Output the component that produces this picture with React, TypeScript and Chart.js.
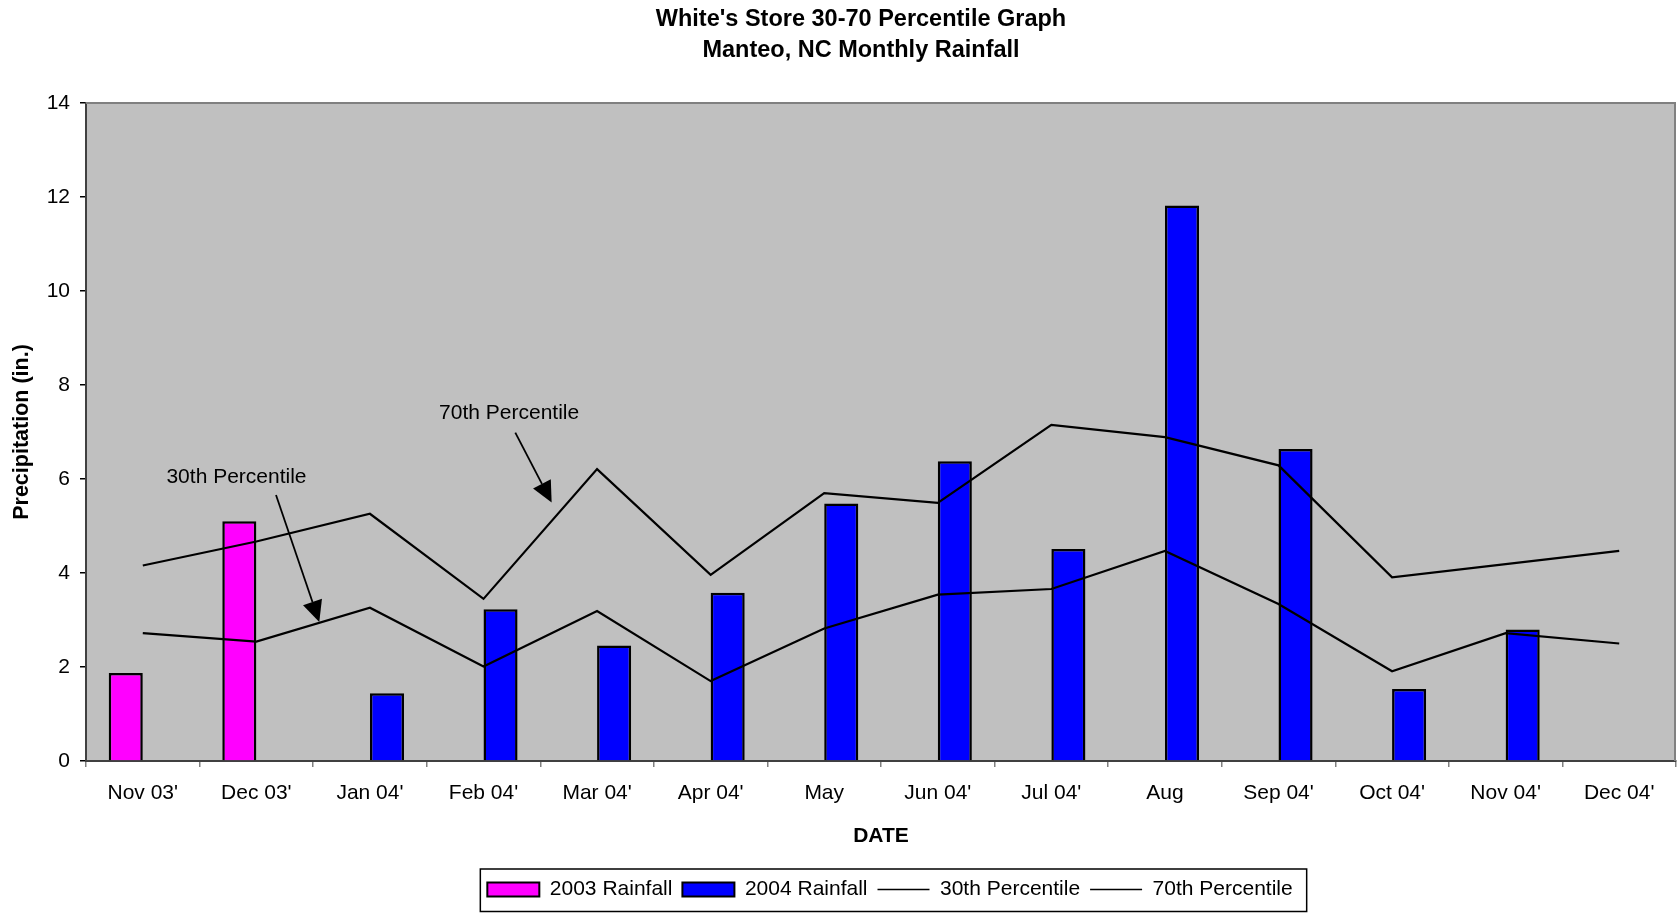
import { useEffect, useRef } from 'react';
import { Chart, registerables } from 'chart.js';

Chart.register(...registerables);

// ---------- data ----------
const titleLines = ["White's Store 30-70 Percentile Graph", 'Manteo, NC Monthly Rainfall'];
const categories = ["Nov 03'", "Dec 03'", "Jan 04'", "Feb 04'", "Mar 04'", "Apr 04'", 'May', "Jun 04'", "Jul 04'", 'Aug', "Sep 04'", "Oct 04'", "Nov 04'", "Dec 04'"];
const rain2003 = [1.87, 5.1, null, null, null, null, null, null, null, null, null, null, null, null];
const rain2004 = [null, null, 1.44, 3.23, 2.46, 3.58, 5.48, 6.38, 4.51, 11.82, 6.64, 1.53, 2.8, null];
const pct30 = [2.72, 2.54, 3.26, 2.01, 3.19, 1.7, 2.82, 3.54, 3.66, 4.47, 3.34, 1.91, 2.72, 2.5];
const pct70 = [4.16, 4.67, 5.26, 3.45, 6.21, 3.96, 5.7, 5.49, 7.15, 6.89, 6.29, 3.91, 4.19, 4.47];
const seriesNames = ['2003 Rainfall', '2004 Rainfall', '30th Percentile', '70th Percentile'];
const yMin = 0;
const yMax = 14;
const yStep = 2;
const xTitle = 'DATE';
const yTitle = 'Precipitation (in.)';

// annotation callouts (category index, value)
const noteLabels = ['30th Percentile', '70th Percentile'];
const noteTextX = [0.825, 3.226];
const noteTextY = [6.03, 7.4];
const noteFromX = [1.173, 3.28];
const noteFromY = [5.66, 6.985];
const noteToX = [1.554, 3.6];
const noteToY = [2.96, 5.5];

const FONT = '"Liberation Sans", Arial, Helvetica, sans-serif';

const backgroundPlugin = {
  id: 'plotBackground',
  afterLayout(chart: any) {
    const lg = chart.legend;
    if (lg) {
      lg.left += 9;
      lg.right += 9;
    }
  },
  beforeDraw(chart: any) {
    const { ctx, chartArea } = chart;
    ctx.save();
    ctx.fillStyle = '#ffffff';
    ctx.fillRect(0, 0, chart.width, chart.height);
    ctx.fillStyle = '#C0C0C0';
    ctx.fillRect(chartArea.left, chartArea.top, chartArea.right - chartArea.left, chartArea.bottom - chartArea.top);
    ctx.restore();
  },
  afterDatasetsDraw(chart: any) {
    const { ctx, chartArea } = chart;
    ctx.save();
    ctx.strokeStyle = '#808080';
    ctx.lineWidth = 2;
    ctx.beginPath();
    ctx.moveTo(chartArea.left, chartArea.top);
    ctx.lineTo(chartArea.right - 1, chartArea.top);
    ctx.lineTo(chartArea.right - 1, chartArea.bottom);
    ctx.stroke();
    ctx.restore();
  },
};

const titlePlugin = {
  id: 'twoLineTitle',
  afterDraw(chart: any) {
    const { ctx, chartArea } = chart;
    const cx = (chartArea.left + chartArea.right) / 2 - 20;
    ctx.save();
    ctx.font = `bold 23.5px ${FONT}`;
    ctx.fillStyle = '#000';
    ctx.textAlign = 'center';
    ctx.textBaseline = 'middle';
    titleLines.forEach((t, i) => ctx.fillText(t, cx, 20 + i * 31));
    ctx.restore();
  },
};

const notesPlugin = {
  id: 'callouts',
  afterDatasetsDraw(chart: any) {
    const { ctx } = chart;
    const xs = chart.scales.x;
    const ys = chart.scales.y;
    ctx.save();
    ctx.font = `21px ${FONT}`;
    ctx.fillStyle = '#000';
    ctx.strokeStyle = '#000';
    ctx.textAlign = 'center';
    ctx.textBaseline = 'middle';
    noteLabels.forEach((label, i) => {
      ctx.fillText(label, xs.getPixelForValue(noteTextX[i]), ys.getPixelForValue(noteTextY[i]));
      const sx = xs.getPixelForValue(noteFromX[i]);
      const sy = ys.getPixelForValue(noteFromY[i]);
      const ex = xs.getPixelForValue(noteToX[i]);
      const ey = ys.getPixelForValue(noteToY[i]);
      const ang = Math.atan2(ey - sy, ex - sx);
      const headLen = 21;
      const headHalf = 10;
      const bx = ex - Math.cos(ang) * headLen;
      const by = ey - Math.sin(ang) * headLen;
      ctx.lineWidth = 1.8;
      ctx.beginPath();
      ctx.moveTo(sx, sy);
      ctx.lineTo(bx, by);
      ctx.stroke();
      ctx.beginPath();
      ctx.moveTo(ex, ey);
      ctx.lineTo(bx + Math.sin(ang) * headHalf, by - Math.cos(ang) * headHalf);
      ctx.lineTo(bx - Math.sin(ang) * headHalf, by + Math.cos(ang) * headHalf);
      ctx.closePath();
      ctx.fill();
    });
    ctx.restore();
  },
};

const legendBoxPlugin = {
  id: 'legendBox',
  afterDraw(chart: any) {
    const lg = chart.legend;
    if (!lg || !lg.legendHitBoxes || !lg.legendHitBoxes.length) return;
    const boxes = lg.legendHitBoxes;
    const left = Math.min(...boxes.map((b: any) => b.left)) - 7;
    const right = Math.max(...boxes.map((b: any) => b.left + b.width)) + 14;
    const top = lg.top;
    const bottom = chart.height - 1.5;
    const { ctx } = chart;
    ctx.save();
    ctx.strokeStyle = '#000';
    ctx.lineWidth = 1.5;
    ctx.strokeRect(left, top, right - left, bottom - top);
    ctx.restore();
  },
};

export default function App() {
  const canvasRef = useRef<HTMLCanvasElement | null>(null);

  useEffect(() => {
    document.body.style.margin = '0';
    const canvas = canvasRef.current;
    if (!canvas) return;
    const chart = new Chart(canvas, {
      type: 'bar',
      data: {
        labels: categories,
        datasets: [
          {
            type: 'bar',
            label: seriesNames[0],
            data: rain2003,
            backgroundColor: '#FF00FF',
            borderColor: '#000000',
            borderWidth: 2.5,
            categoryPercentage: 0.6,
            barPercentage: 1.0,
            order: 2,
          },
          {
            type: 'bar',
            label: seriesNames[1],
            data: rain2004,
            backgroundColor: '#0000FF',
            borderColor: '#000000',
            borderWidth: 2.5,
            categoryPercentage: 0.6,
            barPercentage: 1.0,
            order: 2,
          },
          {
            type: 'line',
            label: seriesNames[2],
            data: pct30,
            borderColor: '#000000',
            backgroundColor: '#000000',
            borderWidth: 2.2,
            pointRadius: 0,
            pointStyle: 'line',
            fill: false,
            tension: 0,
            order: 1,
          },
          {
            type: 'line',
            label: seriesNames[3],
            data: pct70,
            borderColor: '#000000',
            backgroundColor: '#000000',
            borderWidth: 2.2,
            pointRadius: 0,
            pointStyle: 'line',
            fill: false,
            tension: 0,
            order: 1,
          },
        ] as any,
      },
      options: {
        responsive: false,
        animation: false,
        layout: { padding: { top: 103, left: 0, right: 1, bottom: 3 } },
        scales: {
          x: {
            offset: true,
            grid: {
              offset: true,
              display: true,
              drawOnChartArea: false,
              drawTicks: true,
              tickLength: 6,
              color: '#808080',
              lineWidth: 1.5,
            },
            border: { display: true, color: '#404040', width: 2 },
            ticks: {
              autoSkip: false,
              maxRotation: 0,
              minRotation: 0,
              padding: 14,
              color: '#000',
              font: { family: FONT, size: 21 },
            },
            title: {
              display: true,
              text: xTitle,
              color: '#000',
              font: { family: FONT, size: 21, weight: 'bold' },
              padding: { top: 0, bottom: 20 },
            },
            afterFit(scale: any) {
              scale.height = 108;
            },
          },
          y: {
            min: yMin,
            max: yMax,
            grid: {
              display: true,
              drawOnChartArea: false,
              drawTicks: true,
              tickLength: 6,
              color: '#000',
              lineWidth: 1.5,
            },
            border: { display: true, color: '#404040', width: 2 },
            ticks: {
              stepSize: yStep,
              padding: 10,
              color: '#000',
              font: { family: FONT, size: 21 },
            },
            title: {
              display: true,
              text: yTitle,
              color: '#000',
              font: { family: FONT, size: 21.5, weight: 'bold' },
              padding: { top: 9, bottom: 0 },
            },
            afterFit(scale: any) {
              scale.width = 86;
            },
          },
        },
        plugins: {
          title: { display: false },
          tooltip: { enabled: false },
          legend: {
            display: true,
            position: 'bottom',
            fullSize: false,
            labels: {
              usePointStyle: true,
              pointStyleWidth: 52,
              boxWidth: 52,
              boxHeight: 14,
              padding: 10,
              color: '#000',
              font: { family: FONT, size: 21 },
              sort: (a: any, b: any) => a.datasetIndex - b.datasetIndex,
              generateLabels(chart: any) {
                const items = Chart.defaults.plugins.legend.labels.generateLabels(chart);
                return items.map((it: any) => {
                  const ds: any = chart.data.datasets[it.datasetIndex];
                  if (ds.type === 'line') {
                    it.pointStyle = 'line';
                    it.lineWidth = 1.6;
                  } else {
                    it.pointStyle = 'rect';
                    it.lineWidth = 2;
                  }
                  return it;
                });
              },
            },
          },
        },
      } as any,
      plugins: [backgroundPlugin, notesPlugin, titlePlugin, legendBoxPlugin],
    });
    return () => chart.destroy();
  }, []);

  return (
    <div style={{ width: 1677, height: 913 }}>
      <canvas ref={canvasRef} width={1677} height={913} style={{ display: 'block' }} />
    </div>
  );
}
